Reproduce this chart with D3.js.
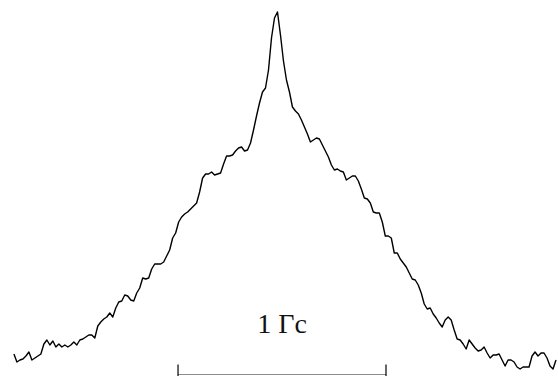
<!DOCTYPE html>
<html>
<head>
<meta charset="utf-8">
<script src="https://cdn.jsdelivr.net/npm/d3@7"></script>
<style>
  html, body { margin: 0; padding: 0; background: #fff; }
  svg { display: block; }
  .spectrum__line { fill: none; stroke: #000; stroke-width: 1.4; stroke-linejoin: round; }
  .scalebar__line { stroke: #8c8c8c; stroke-width: 1; }
  .scalebar__tick { stroke: #000; stroke-width: 1.2; }
  .scalebar__label { font-family: "Liberation Serif", "Times New Roman", serif; font-size: 28px; fill: #111; }
</style>
</head>
<body>
<svg id="chart" width="558" height="376"></svg>
<script>
// sweep: field offset from the line centre, gauss (constant field step)
const fieldStart = -1.265;
const fieldStep = 0.0144;

// signal intensity, arbitrary units, one value per field step
const intensity = [
  18, 10, 12, 13, 16, 20, 12, 14, 16, 18,
  28, 32, 27, 31, 25, 28, 25, 27, 25, 27,
  30, 27, 32, 33, 35, 37, 37, 34, 46, 50,
  53, 55, 59, 55, 64, 70, 71, 77, 76, 72,
  71, 79, 84, 94, 93, 94, 103, 108, 108, 108,
  110, 116, 122, 134, 139, 150, 155, 158, 160, 163,
  166, 169, 180, 194, 198, 198, 200, 197, 198, 199,
  208, 216, 216, 217, 221, 224, 225, 221, 222, 229,
  242, 256, 269, 280, 284, 302, 334, 354, 360, 337,
  311, 292, 280, 265, 261, 258, 252, 245, 238, 230,
  232, 234, 233, 227, 221, 215, 207, 202, 203, 201,
  200, 192, 194, 196, 196, 191, 183, 174, 173, 169,
  160, 159, 159, 150, 136, 136, 134, 119, 119, 113,
  109, 105, 99, 93, 92, 87, 79, 68, 63, 64,
  58, 54, 49, 45, 52, 55, 52, 42, 33, 32,
  28, 23, 32, 28, 24, 21, 22, 25, 19, 14,
  17, 17, 18, 12, 6, 12, 12, 10, 5, 3,
  5, 5, 5, 16, 20, 16, 19, 19, 14, 6,
  3, 12
];

// scale bar: 1 G, starting at this field offset
const scaleBarStart = -0.476;
const scaleBarLength = 1;
const scaleBarLabel = '1 Гс';

const svg = d3.select('#chart');
const width = +svg.attr('width');
const height = +svg.attr('height');

const points = intensity.map((v, i) => ({ field: fieldStart + i * fieldStep, value: v }));

// 208 px per gauss, line centre at x = 277
const xscale = d3.scaleLinear()
  .domain([-1.332, 1.351])
  .range([0, width]);

const yscale = d3.scaleLinear()
  .domain([0, 360])
  .range([372, 12]);

const line = d3.line()
  .x(d => xscale(d.field))
  .y(d => yscale(d.value));

svg.append('path')
  .datum(points)
  .classed('spectrum__line', true)
  .attr('d', line);

// scale bar
const barY = height - 1.5;
const x0 = xscale(scaleBarStart);
const x1 = xscale(scaleBarStart + scaleBarLength);
const bar = svg.append('g').classed('scalebar', true);

bar.append('line')
  .classed('scalebar__line', true)
  .attr('x1', x0).attr('x2', x1)
  .attr('y1', barY).attr('y2', barY);

bar.selectAll('.scalebar__tick')
  .data([x0, x1])
  .enter()
  .append('line')
  .classed('scalebar__tick', true)
  .attr('x1', d => d).attr('x2', d => d)
  .attr('y1', barY - 10).attr('y2', height);

bar.append('text')
  .classed('scalebar__label', true)
  .attr('x', (x0 + x1) / 2)
  .attr('y', 333)
  .attr('text-anchor', 'middle')
  .text(scaleBarLabel);
</script>
</body>
</html>
